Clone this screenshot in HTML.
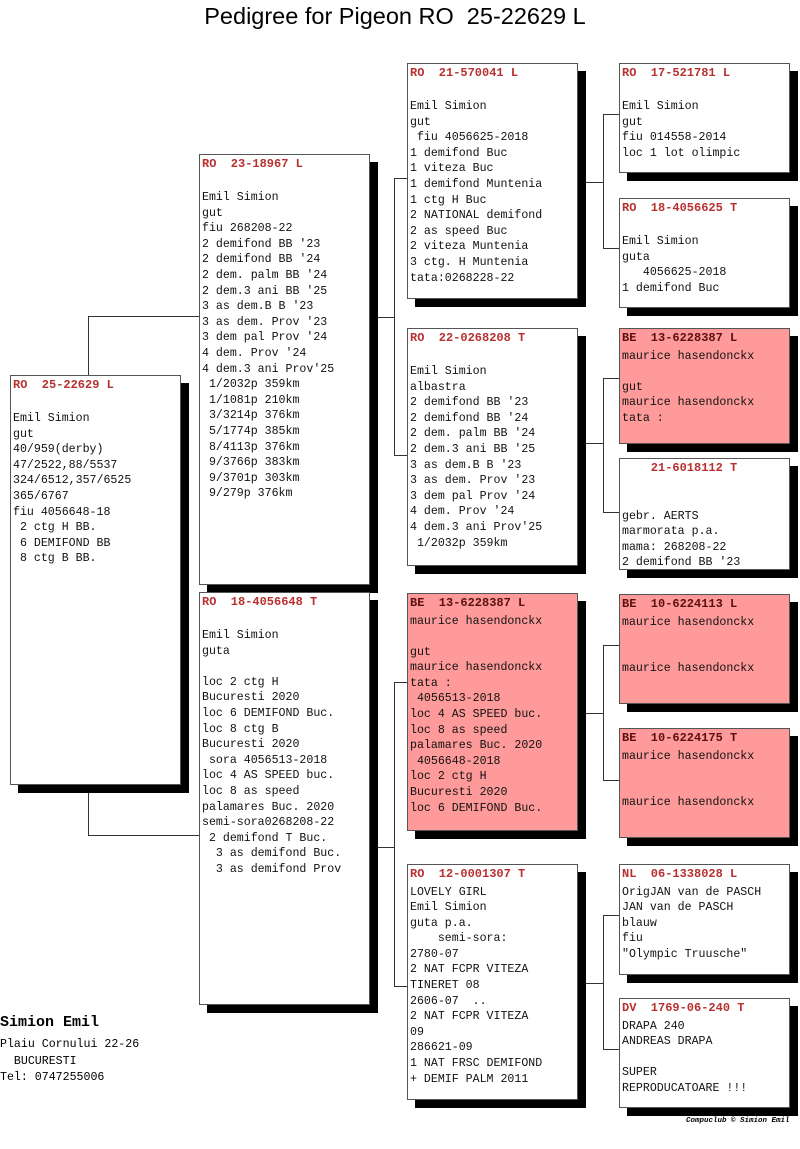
<!DOCTYPE html>
<html><head><meta charset="utf-8"><style>
body{margin:0;width:800px;height:1149px;background:#fff;position:relative;overflow:hidden;font-family:"Liberation Mono",monospace}
.b{position:absolute;border:1px solid #555;background:#fff;box-shadow:8px 8px 0 #000;box-sizing:border-box;padding:0 0 0 2px;font-size:11.6px;line-height:15.6px;white-space:pre;color:#111;overflow:visible}
.p{background:#ff9a9a}
.h{display:block;color:#b83030;font-weight:bold;font-size:12px;line-height:19.5px}
.p .h{color:#5a1010}
.l{position:absolute;background:#333}
.t{position:absolute;left:0;width:790px;text-align:center;top:3px;font-family:"Liberation Sans",sans-serif;font-size:23.5px}
</style></head><body>
<div class="t">Pedigree for Pigeon RO&nbsp; 25-22629 L</div>

<div class="l" style="left:88px;top:316px;width:1px;height:60px"></div>
<div class="l" style="left:88px;top:316px;width:111px;height:1px"></div>
<div class="l" style="left:88px;top:785px;width:1px;height:50px"></div>
<div class="l" style="left:88px;top:835px;width:111px;height:1px"></div>

<div class="l" style="left:377px;top:317px;width:17px;height:1px"></div>
<div class="l" style="left:394px;top:178px;width:1px;height:277px"></div>
<div class="l" style="left:394px;top:178px;width:13px;height:1px"></div>
<div class="l" style="left:394px;top:455px;width:13px;height:1px"></div>

<div class="l" style="left:377px;top:847px;width:17px;height:1px"></div>
<div class="l" style="left:394px;top:682px;width:1px;height:304px"></div>
<div class="l" style="left:394px;top:682px;width:13px;height:1px"></div>
<div class="l" style="left:394px;top:986px;width:13px;height:1px"></div>

<div class="l" style="left:585px;top:182px;width:18px;height:1px"></div>
<div class="l" style="left:603px;top:114px;width:1px;height:134px"></div>
<div class="l" style="left:603px;top:114px;width:16px;height:1px"></div>
<div class="l" style="left:603px;top:248px;width:16px;height:1px"></div>

<div class="l" style="left:585px;top:443px;width:18px;height:1px"></div>
<div class="l" style="left:603px;top:378px;width:1px;height:134px"></div>
<div class="l" style="left:603px;top:378px;width:16px;height:1px"></div>
<div class="l" style="left:603px;top:512px;width:16px;height:1px"></div>

<div class="l" style="left:585px;top:713px;width:18px;height:1px"></div>
<div class="l" style="left:603px;top:645px;width:1px;height:135px"></div>
<div class="l" style="left:603px;top:645px;width:16px;height:1px"></div>
<div class="l" style="left:603px;top:780px;width:16px;height:1px"></div>

<div class="l" style="left:585px;top:983px;width:18px;height:1px"></div>
<div class="l" style="left:603px;top:915px;width:1px;height:134px"></div>
<div class="l" style="left:603px;top:915px;width:16px;height:1px"></div>
<div class="l" style="left:603px;top:1049px;width:16px;height:1px"></div>

<div class="b" style="left:10px;top:375px;width:171px;height:410px"><span class="h">RO  25-22629 L</span>
Emil Simion
gut
40/959(derby)
47/2522,88/5537
324/6512,357/6525
365/6767
fiu 4056648-18
 2 ctg H BB.
 6 DEMIFOND BB
 8 ctg B BB.</div>

<div class="b" style="left:199px;top:154px;width:171px;height:431px"><span class="h">RO  23-18967 L</span>
Emil Simion
gut
fiu 268208-22
2 demifond BB '23
2 demifond BB '24
2 dem. palm BB '24
2 dem.3 ani BB '25
3 as dem.B B '23
3 as dem. Prov '23
3 dem pal Prov '24
4 dem. Prov '24
4 dem.3 ani Prov'25
 1/2032p 359km
 1/1081p 210km
 3/3214p 376km
 5/1774p 385km
 8/4113p 376km
 9/3766p 383km
 9/3701p 303km
 9/279p 376km</div>
<div class="b" style="left:199px;top:592px;width:171px;height:413px"><span class="h">RO  18-4056648 T</span>
Emil Simion
guta

loc 2 ctg H
Bucuresti 2020
loc 6 DEMIFOND Buc.
loc 8 ctg B
Bucuresti 2020
 sora 4056513-2018
loc 4 AS SPEED buc.
loc 8 as speed
palamares Buc. 2020
semi-sora0268208-22
 2 demifond T Buc.
  3 as demifond Buc.
  3 as demifond Prov</div>

<div class="b" style="left:407px;top:63px;width:171px;height:236px"><span class="h">RO  21-570041 L</span>
Emil Simion
gut
 fiu 4056625-2018
1 demifond Buc
1 viteza Buc
1 demifond Muntenia
1 ctg H Buc
2 NATIONAL demifond
2 as speed Buc
2 viteza Muntenia
3 ctg. H Muntenia
tata:0268228-22</div>
<div class="b" style="left:407px;top:328px;width:171px;height:238px"><span class="h">RO  22-0268208 T</span>
Emil Simion
albastra
2 demifond BB '23
2 demifond BB '24
2 dem. palm BB '24
2 dem.3 ani BB '25
3 as dem.B B '23
3 as dem. Prov '23
3 dem pal Prov '24
4 dem. Prov '24
4 dem.3 ani Prov'25
 1/2032p 359km</div>
<div class="b p" style="left:407px;top:593px;width:171px;height:238px"><span class="h">BE  13-6228387 L</span>maurice hasendonckx

gut
maurice hasendonckx
tata :
 4056513-2018
loc 4 AS SPEED buc.
loc 8 as speed
palamares Buc. 2020
 4056648-2018
loc 2 ctg H
Bucuresti 2020
loc 6 DEMIFOND Buc.</div>
<div class="b" style="left:407px;top:864px;width:171px;height:236px"><span class="h">RO  12-0001307 T</span>LOVELY GIRL
Emil Simion
guta p.a.
    semi-sora:
2780-07
2 NAT FCPR VITEZA
TINERET 08
2606-07  ..
2 NAT FCPR VITEZA
09
286621-09
1 NAT FRSC DEMIFOND
+ DEMIF PALM 2011</div>

<div class="b" style="left:619px;top:63px;width:171px;height:110px"><span class="h">RO  17-521781 L</span>
Emil Simion
gut
fiu 014558-2014
loc 1 lot olimpic</div>
<div class="b" style="left:619px;top:198px;width:171px;height:110px"><span class="h">RO  18-4056625 T</span>
Emil Simion
guta
   4056625-2018
1 demifond Buc</div>
<div class="b p" style="left:619px;top:328px;width:171px;height:116px"><span class="h">BE  13-6228387 L</span>maurice hasendonckx

gut
maurice hasendonckx
tata :</div>
<div class="b" style="left:619px;top:458px;width:171px;height:112px;line-height:15.3px"><span class="h">    21-6018112 T</span>

gebr. AERTS
marmorata p.a.
mama: 268208-22
2 demifond BB '23</div>
<div class="b p" style="left:619px;top:594px;width:171px;height:110px"><span class="h">BE  10-6224113 L</span>maurice hasendonckx


maurice hasendonckx</div>
<div class="b p" style="left:619px;top:728px;width:171px;height:110px"><span class="h">BE  10-6224175 T</span>maurice hasendonckx


maurice hasendonckx</div>
<div class="b" style="left:619px;top:864px;width:171px;height:111px"><span class="h">NL  06-1338028 L</span>OrigJAN van de PASCH
JAN van de PASCH
blauw
fiu
"Olympic Truusche"</div>
<div class="b" style="left:619px;top:998px;width:171px;height:110px"><span class="h">DV  1769-06-240 T</span>DRAPA 240
ANDREAS DRAPA

SUPER
REPRODUCATOARE !!!</div>

<div style="position:absolute;left:0;top:1014px;font-weight:bold;font-size:15px">Simion Emil</div>
<div style="position:absolute;left:0;top:1037px;font-size:11.6px;line-height:16.5px;white-space:pre">Plaiu Cornului 22-26
  BUCURESTI
Tel: 0747255006</div>
<div style="position:absolute;left:686px;top:1117px;font-size:7.5px;font-weight:bold;font-style:italic">Compuclub © Simion Emil</div>
</body></html>
